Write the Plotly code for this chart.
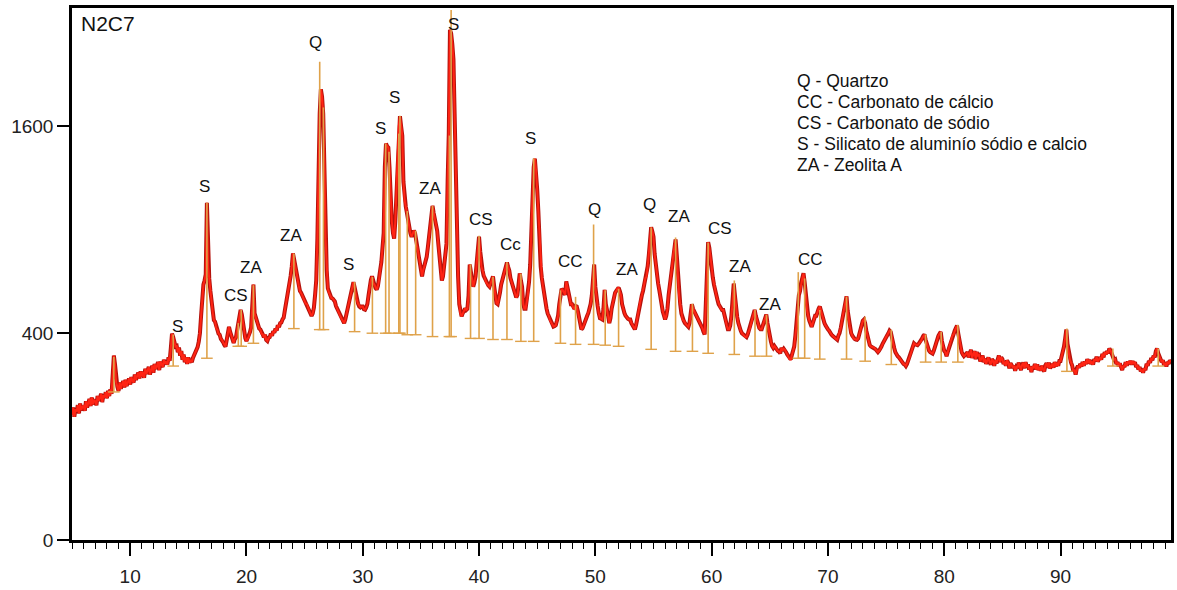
import numpy as np
import plotly.graph_objects as go

# ---- diffractogram: step scan from 5.0 deg 2theta, 0.1 deg step; intensity in counts ----
scan_start = 5.0
scan_step = 0.1
counts_05_15 = [146,164,142,160,154,170,150,174,158,166,
                168,156,180,164,176,186,168,190,172,184,
                180,170,194,182,188,200,178,196,190,204,
                188,208,194,212,200,262,318,288,232,220,
                208,232,214,226,236,218,240,222,232,244,
                226,248,238,232,256,240,252,262,244,266,
                250,264,246,274,258,268,280,256,272,284,
                262,290,274,282,296,270,298,286,280,304,
                290,298,288,312,300,345,398,385,362,350,
                352,330,346,318,334,304,322,296,312,290]
counts_15_25 = [312,294,303,296,310,318,326,334,348,368,
                400,470,560,610,630,660,1063,700,640,580,
                520,485,452,446,420,414,398,394,378,374,
                365,356,350,374,398,425,405,388,372,363,
                378,384,412,440,472,495,476,438,402,382,
                370,380,386,404,422,500,610,480,460,448,
                432,418,414,398,396,384,394,374,370,382,
                385,398,390,408,402,418,410,432,424,440,
                442,455,462,492,520,548,572,612,652,700,
                768,736,700,662,620,604,580,572,560,546]
counts_25_35 = [535,522,520,502,492,480,470,480,505,560,
                630,850,1300,1700,1900,1840,1700,1350,850,680,
                592,572,562,548,546,536,532,512,502,488,
                480,466,456,446,440,455,478,502,520,542,
                560,592,622,598,562,538,522,510,506,510,
                510,498,496,506,522,560,602,632,650,618,
                610,594,586,602,630,682,722,800,880,1300,
                1470,1450,1440,1300,1090,950,880,850,950,1150,
                1400,1600,1680,1600,1530,1200,1080,1040,1000,960,
                900,880,860,880,895,880,820,800,760,720]
counts_35_45 = [680,650,682,700,732,750,802,860,902,960,
                1044,1000,960,920,895,820,750,690,630,650,
                700,760,820,1200,1550,2435,2400,2300,2160,1700,
                1200,800,650,520,480,468,482,488,502,495,
                500,560,710,660,640,600,620,650,720,800,
                860,780,702,680,652,640,622,610,606,600,
                620,642,650,602,560,524,520,542,572,610,
                630,662,680,702,720,698,680,642,620,598,
                590,568,550,562,600,665,630,600,522,500,
                500,532,560,622,710,900,1150,1300,1360,1280]
counts_45_55 = [1150,1010,820,700,642,600,562,520,502,480,
                470,452,442,432,426,428,432,450,472,520,
                565,590,584,570,562,625,600,578,540,520,
                520,504,500,512,510,490,470,440,415,420,
                430,442,455,470,482,500,522,560,640,710,
                600,540,512,480,460,458,455,500,585,520,
                500,470,440,460,500,530,560,572,580,592,
                595,580,562,520,495,482,470,462,458,455,
                455,440,430,420,415,432,460,490,520,542,
                560,580,610,640,650,700,760,850,915,890]
counts_55_65 = [860,765,702,648,615,584,540,522,488,472,
                455,470,500,560,600,650,700,760,800,845,
                760,650,560,520,480,455,450,440,435,430,
                425,440,470,520,500,490,480,470,465,450,
                440,430,420,405,395,520,700,830,800,730,
                700,645,610,580,560,540,520,510,500,495,
                495,470,450,430,415,415,430,470,520,615,
                560,500,465,440,420,410,400,395,390,385,
                385,395,410,420,440,460,480,495,470,450,
                430,420,415,415,430,445,460,475,440,410]
counts_65_75 = [390,368,352,345,352,344,340,334,332,326,
                345,336,342,338,330,322,315,306,305,320,
                340,350,390,430,500,560,580,620,640,665,
                620,560,495,470,450,440,425,440,455,470,
                470,490,500,510,490,470,450,440,430,420,
                415,410,400,395,390,385,380,378,375,390,
                400,420,450,480,510,530,555,490,450,420,
                400,390,380,378,376,375,380,400,420,440,
                450,455,440,410,390,370,355,350,348,345,
                345,340,335,330,335,340,350,360,370,380]
counts_75_85 = [385,392,400,410,405,380,360,345,330,320,
                316,312,305,300,295,290,288,283,290,300,
                310,320,335,350,362,358,356,355,360,365,
                370,380,390,395,375,360,345,335,330,328,
                325,335,350,365,380,390,398,405,370,350,
                335,330,316,330,345,360,375,390,395,410,
                420,430,400,370,350,330,322,316,320,325,
                330,312,328,338,310,322,334,306,330,318,
                320,298,312,318,296,308,290,302,312,296,
                288,306,300,284,302,292,310,318,296,312]
counts_85_995 = [306,290,298,284,302,294,276,292,286,278,
                 284,268,280,276,294,280,270,288,294,276,
                 296,280,288,272,280,264,282,276,290,272,
                 288,270,280,268,284,272,266,286,292,278,
                 294,276,282,290,278,296,282,294,284,300,
                 300,315,330,350,380,414,360,330,305,295,
                 285,266,272,256,276,284,278,290,282,296,
                 284,298,290,306,292,304,290,298,288,306,
                 300,314,298,308,312,304,324,312,330,322,
                 334,326,343,336,324,318,304,306,290,296,
                 282,292,276,270,284,280,296,284,298,290,
                 300,288,299,290,296,280,286,272,280,266,
                 272,262,276,270,290,284,300,294,310,302,
                 318,312,334,343,326,318,306,296,302,286,
                 294,282,296,290,302,296]

# ---- identified peak sticks ----
stick_pos = [8.6,13.7,16.6,19.3,19.55,20.6,24.08,26.3,26.62,29.3,
             30.83,31.97,32.26,33.1,33.2,33.83,34.55,36.0,37.45,37.6,
             39.27,40.0,41.2,42.4,43.6,44.7,47.0,48.3,49.85,50.85,
             52.0,54.8,56.9,58.35,59.7,61.95,63.73,64.72,67.45,68.0,
             69.3,71.6,73.2,75.45,78.4,79.74,81.17,90.55,94.5,98.4]
stick_top = [313,395,1063,440,495,607,768,2140,1750,622,
             647,1470,1410,1545,1683,1012,895,1044,1530,2628,
             710,866,647,721,663,1362,583,553,931,583,
             590,913,856,522,826,630,495,474,671,640,
             495,553,466,414,395,405,433,418,343,343]
stick_base = [205,283,309,351,351,362,418,414,414,406,
              400,400,400,400,400,394,394,387,387,387,
              380,380,376,376,369,369,362,358,358,355,
              351,340,333,333,326,322,316,316,309,309,
              306,306,299,288,296,296,296,266,283,283]

# ---- phase labels ----
label_text = ['S','S','CS','ZA','ZA','Q','S','S','S','ZA','S','CS','Cc','S',
              'CC','Q','ZA','Q','ZA','CS','ZA','ZA','CC']
label_x = [14.07,16.4,19.1,20.4,23.85,25.9,28.75,31.5,32.7,35.8,37.8,40.2,42.7,44.45,
           47.9,49.9,52.7,54.7,57.2,60.7,62.4,65.0,68.5]
label_y = [426,1172,558,696,866,2316,710,1582,1830,1155,2487,960,816,1507,
           727,1020,685,1050,977,905,701,520,737]

legend_lines = ['Q - Quartzo', 'CC - Carbonato de cálcio', 'CS - Carbonato de sódio',
                'S - Silicato de aluminío sódio e calcio', 'ZA - Zeolita A']

y_ticks = [0, 400, 1600]
sample_name = 'N2C7'

FONT = 'Liberation Sans, Arial, sans-serif'

counts = (counts_05_15 + counts_15_25 + counts_25_35 + counts_35_45 + counts_45_55 +
          counts_55_65 + counts_65_75 + counts_75_85 + counts_85_995)
theta = [round(scan_start + scan_step * i, 2) for i in range(len(counts))]
root = np.sqrt(counts)

fig = go.Figure()
fig.add_trace(go.Scatter(x=theta, y=root, mode='lines',
                         line=dict(color='#B3120C', width=4), hoverinfo='skip'))
fig.add_trace(go.Scatter(x=theta, y=root, mode='lines',
                         line=dict(color='#FF2414', width=2), hoverinfo='skip'))

sx, sy, bx, by = [], [], [], []
for p, b, t in zip(stick_pos, stick_base, stick_top):
    sx += [p, p, None]
    sy += [np.sqrt(b), np.sqrt(t), None]
    bx += [p - 0.5, p + 0.5, None]
    by += [np.sqrt(b), np.sqrt(b), None]
fig.add_trace(go.Scatter(x=sx, y=sy, mode='lines',
                         line=dict(color='#DFA24A', width=1.6), hoverinfo='skip'))
fig.add_trace(go.Scatter(x=bx, y=by, mode='lines',
                         line=dict(color='#DFA24A', width=1.4), hoverinfo='skip'))

for t, x, y in zip(label_text, label_x, label_y):
    fig.add_annotation(x=x, y=np.sqrt(y), text=t, showarrow=False,
                       font=dict(family=FONT, size=17, color='#111'),
                       xanchor='center', yanchor='middle')

for i, line in enumerate(legend_lines):
    fig.add_annotation(xref='paper', yref='paper', x=0.658, y=1 - (82 + 21.2 * i - 8) / 538,
                       text=line, showarrow=False, xanchor='left', yanchor='middle',
                       font=dict(family=FONT, size=17.5, color='#111'))

fig.add_annotation(xref='paper', yref='paper', x=0.006, y=0.996, text=sample_name,
                   showarrow=False, xanchor='left', yanchor='top',
                   font=dict(family=FONT, size=21, color='#111'))

fig.update_layout(
    width=1177, height=590,
    margin=dict(l=72, r=3, t=8, b=44),
    paper_bgcolor='white', plot_bgcolor='white',
    showlegend=False,
    font=dict(family=FONT, size=19, color='#222'),
)
fig.update_xaxes(range=[5, 99.5], tick0=0, dtick=10, ticks='outside', ticklen=13,
                 tickwidth=1.5, tickcolor='black', showline=True, linewidth=2.5,
                 linecolor='black', mirror=True, showgrid=False, zeroline=False,
                 ticklabelstandoff=4,
                 minor=dict(dtick=1, tick0=0, ticks='outside', ticklen=6, tickwidth=1,
                            tickcolor='black', showgrid=False))
fig.update_yaxes(range=[0, 51.45], tickvals=[np.sqrt(v) for v in y_ticks],
                 ticktext=[str(v) for v in y_ticks], ticks='outside', ticklen=12,
                 tickwidth=1.5, tickcolor='black', showline=True, linewidth=2.5,
                 linecolor='black', mirror=True, showgrid=False, zeroline=False)

fig.write_html('out.html')
